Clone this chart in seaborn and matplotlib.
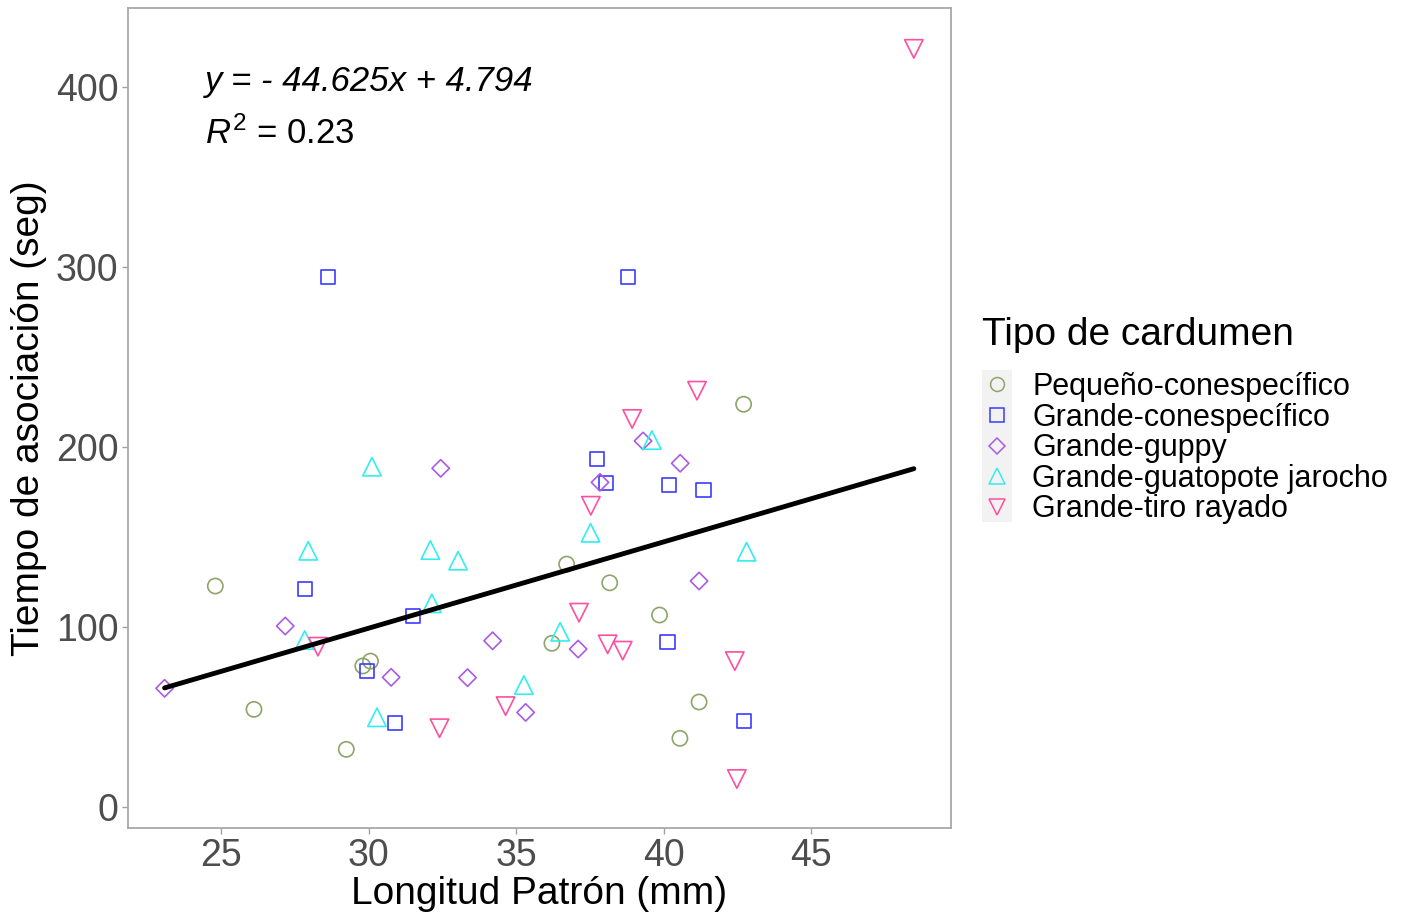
import matplotlib
matplotlib.use("Agg")
import matplotlib.pyplot as plt
from matplotlib.lines import Line2D
from matplotlib.patches import Rectangle
import seaborn as sns
import pandas as pd
import numpy as np

sns.set_theme(style="white")
plt.rcParams['font.family'] = ['Liberation Sans', 'DejaVu Sans']
plt.rcParams['mathtext.fontset'] = 'custom'
plt.rcParams['mathtext.rm'] = 'Liberation Sans'
plt.rcParams['mathtext.it'] = 'Liberation Sans:italic'
plt.rcParams['text.color'] = 'black'
plt.rcParams['axes.labelcolor'] = 'black'

categories = ["Pequeño-conespecífico", "Grande-conespecífico", "Grande-guppy",
              "Grande-guatopote jarocho", "Grande-tiro rayado"]

peq_x = [24.80, 26.11, 29.80, 30.06, 29.24, 42.71, 36.71, 38.17, 39.86, 36.21, 41.20, 40.55]
peq_y = [122.6, 54.1, 78.2, 80.9, 31.9, 223.6, 134.8, 124.4, 106.5, 90.8, 58.2, 38.0]

gcon_x = [27.83, 31.49, 29.93, 30.88, 37.74, 38.05, 40.18, 41.35, 40.13, 42.72, 28.62, 38.79]
gcon_y = [121.1, 106.1, 75.4, 46.7, 193.2, 179.7, 178.6, 176.0, 91.7, 47.8, 294.3, 294.3]

gup_x = [32.44, 27.17, 34.20, 23.08, 30.76, 33.35, 35.32, 39.30, 40.56, 37.84, 41.20, 37.10]
gup_y = [188.0, 100.4, 92.2, 65.8, 71.9, 71.7, 52.4, 203.2, 190.8, 180.2, 125.4, 87.6]

gua_x = [30.11, 27.95, 32.09, 33.03, 32.14, 27.83, 30.28, 35.26, 39.60, 37.52, 42.81, 36.49]
gua_y = [188.9, 142.2, 142.6, 136.7, 113.0, 92.6, 49.7, 67.6, 203.7, 152.2, 141.7, 97.2]

tiro_x = [28.28, 32.40, 34.64, 41.13, 38.93, 37.53, 37.13, 38.10, 38.61, 42.41, 42.48, 48.48]
tiro_y = [88.9, 43.6, 55.9, 231.1, 215.4, 167.2, 107.8, 90.2, 86.7, 80.9, 15.4, 421.0]

slope = 4.794
intercept = -44.625
x_ticks = [25, 30, 35, 40, 45]
y_ticks = [0, 100, 200, 300, 400]

xs = [peq_x, gcon_x, gup_x, gua_x, tiro_x]
ys = [peq_y, gcon_y, gup_y, gua_y, tiro_y]
frames = []
for c, xv, yv in zip(categories, xs, ys):
    frames.append(pd.DataFrame({"x": xv, "y": yv, "grupo": c}))
df = pd.concat(frames, ignore_index=True)

colors = ["#8DA46A", "#3B3BFF", "#A95BE6", "#33EEEE", "#FF4FA0"]
markers = ["o", "s", "D", "^", "v"]
sizes = [120, 105, 78, 175, 175]

W, H = 1410, 915
fig = plt.figure(figsize=(W / 100, H / 100), dpi=100)
ax = fig.add_axes([128 / W, 1 - 828 / H, (951 - 128) / W, (828 - 8) / H])

for c, col, m, s in zip(categories, colors, markers, sizes):
    sub = df[df.grupo == c]
    sns.scatterplot(data=sub, x="x", y="y", ax=ax, marker=m, s=s,
                    facecolors="none", edgecolor=col, linewidth=1.2, legend=False)

xmin, xmax = df.x.min(), df.x.max()
line_df = pd.DataFrame({"x": [xmin, xmax]})
line_df["y"] = intercept + slope * line_df["x"]
sns.lineplot(data=line_df, x="x", y="y", ax=ax, color="black", linewidth=3.5)

ax.set_xlim(21.84, 49.74)
ax.set_ylim(-11.8, 443.7)
ax.set_xticks(x_ticks)
ax.set_yticks(y_ticks)
ax.tick_params(axis="both", labelsize=27, labelcolor="#4D4D4D", color="#A0A0A0",
               length=4, width=1, direction="out", pad=3, left=True, bottom=True)
for sp in ax.spines.values():
    sp.set_color("#A8A8A8")
    sp.set_linewidth(1.3)
ax.set_xlabel("Longitud Patrón (mm)", fontsize=28, color="black", labelpad=2)
ax.set_ylabel("Tiempo de asociación (seg)", fontsize=28, color="black", labelpad=6)

ax.text(205 / W, 1 - 82 / H, "y = - 44.625x + 4.794", transform=fig.transFigure,
        fontsize=25, fontstyle="italic", ha="left", va="center", color="black")
ax.text(205 / W, 1 - 134 / H, r"$R^2$ = 0.23", transform=fig.transFigure,
        fontsize=25, ha="left", va="center", color="black")

# legend
fig.add_artist(Rectangle((982 / W, 1 - 522 / H), 30 / W, 152 / H,
                         transform=fig.transFigure, facecolor="#F2F2F2",
                         edgecolor="none", zorder=0))
handles = [Line2D([], [], linestyle="none", marker=m, markersize=ms,
                  markerfacecolor="none", markeredgecolor=col, markeredgewidth=1.1)
           for m, col, ms in zip(markers, colors, [10, 9.5, 8.5, 12, 12])]
leg = fig.legend(handles, categories, loc="upper left",
                 bbox_to_anchor=(982 / W, 1 - 372 / H), frameon=False,
                 fontsize=22, handlelength=1.0, handletextpad=0.64,
                 labelspacing=0.02, borderpad=0, borderaxespad=0)
for t in leg.get_texts():
    t.set_color("black")
fig.text(982 / W, 1 - 335 / H, "Tipo de cardumen", fontsize=28,
         ha="left", va="center", color="black")

fig.savefig("out.png", dpi=100)
